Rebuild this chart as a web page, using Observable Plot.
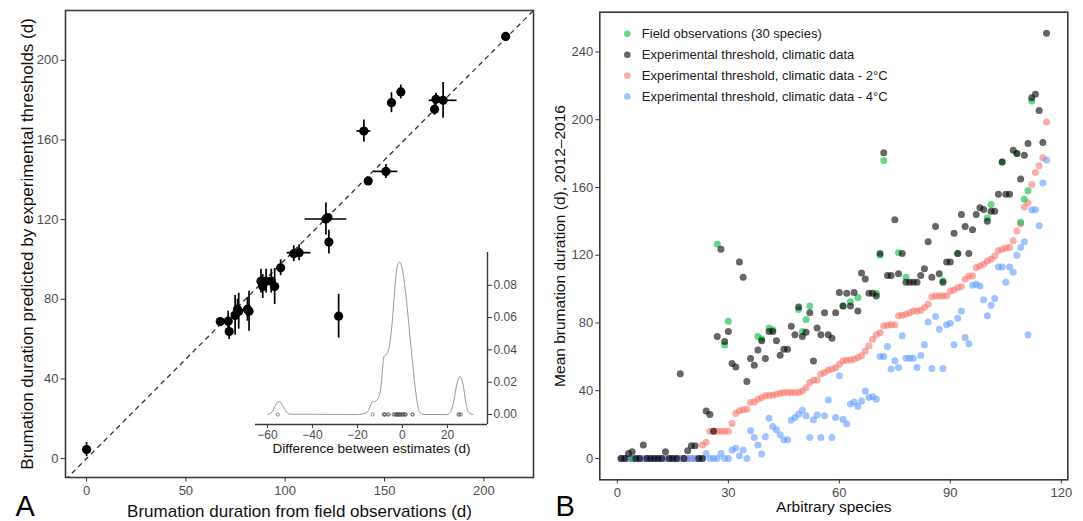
<!DOCTYPE html>
<html><head><meta charset="utf-8">
<script src="https://cdn.jsdelivr.net/npm/d3@7"></script>
<script src="https://cdn.jsdelivr.net/npm/@observablehq/plot@0.6"></script>
<style>
html,body{margin:0;padding:0;background:#fff;}
#wrap{position:relative;width:1083px;height:521px;overflow:hidden;}
#wrap > div{position:absolute;}
</style></head><body><div id="wrap"><div id="pa" style="left:0;top:0"></div><div id="pb" style="left:540px;top:0"></div><div id="pi" style="left:200px;top:230px"></div></div>
<script>
// ---------- Panel A data ----------
const obsA  = [0, 211, 158.2, 153.5, 175.9, 179.5, 175.2, 139.6, 150.7, 141.8, 120.5, 121.5, 122, 104.3, 107, 97.7, 87.8, 90.4, 93, 88.7, 94.7, 81.8, 76.6, 74.8, 71.3, 67.3, 71.8, 126.9, 81, 76];
const predA = [4.5, 212, 184.1, 178.7, 180.4, 179.9, 175.4, 164.5, 144.2, 139.4, 120.3, 121, 108.7, 102.9, 103.4, 95.8, 89.1, 89.1, 89.1, 86.4, 86.4, 74, 74, 71.9, 69, 68.8, 63.8, 71.5, 75, 75];
const xErrA = [0, 2, 0, 0, 0, 7, 0, 3.5, 6, 0, 10.5, 0, 0, 0, 6, 0, 0, 0, 0, 0, 0, 0, 0, 0, 0, 0, 0, 0, 0, 0];
const yErrA = [3.5, 1.5, 3.5, 5, 3, 9, 3, 5.5, 3.5, 0, 8, 0, 6, 4, 4, 4, 6, 6, 6, 6, 9, 10, 9, 10, 5, 0, 4, 11, 6, 5];
const xTicksA = [0, 50, 100, 150, 200];
const yTicksA = [0, 40, 80, 120, 160, 200];
const xDomA = [-10.6, 225], yDomA = [-9.5, 225];
const xTitleA = "Brumation duration from field observations (d)";
const yTitleA = "Brumation duration predicted by experimental thresholds (d)";

// ---------- Inset data (density of differences) ----------
const densX = [-60, -58, -57, -56, -55, -54, -53, -52, -50, -20, -16, -15, -14, -13.5, -12, -10.5, -9.5, -9, -8.3, -7.5, -6.8, -5.5, -4.6, -3.5, -2.4, -1.3, -0.2, 1, 2.1, 3.5, 5, 6, 7.3, 8.5, 9.5, 20, 21.5, 23, 24, 25, 25.5, 26, 27, 28, 29.3, 31.4];
const densY = [0, 0.0015, 0.004, 0.0068, 0.008, 0.0075, 0.005, 0.0025, 0.0002, 0, 0.001, 0.003, 0.0062, 0.0076, 0.0082, 0.0107, 0.018, 0.0252, 0.0355, 0.0368, 0.0376, 0.045, 0.0561, 0.076, 0.0912, 0.0943, 0.0912, 0.08, 0.0664, 0.046, 0.0252, 0.013, 0.0025, 0.0005, 0, 0, 0.002, 0.0095, 0.0175, 0.0225, 0.0235, 0.0228, 0.018, 0.009, 0.0015, 0];
const insetXTicks = [-60, -40, -20, 0, 20];
const insetYTicks = [0, 0.02, 0.04, 0.06, 0.08];
const insetXDom = [-65.3, 37.8], insetYDom = [-0.0062, 0.1003];
const rugLevel = 0;
const insetTitle = "Difference between estimates (d)";

// ---------- Panel B data ----------
const speciesCount = 116;
const expClim = [0,0,3,4,0,0,8,0,0,0, 0,0,4,0,0,0,50,0,4.5,7.5, 7.5,0,0,28,26,16,72,123.5,69,75,
  56,54,116,107,45.5,59,55,64,69.5,59, 75,75,69.5,61,64.5,64.5,78,73,89.5,72,
  74.5,86,57.5,77,73,86,73,71,86,98, 90,97.5,90,98,87,109.5,106,97.5,97.5,96,
  121,180.5,108,108,141,109,121,104,104,104, 104,108,112,128,107,137,109,104,116,116,
  133,121,144,137,121,135,144,148,147,140, 146,146,156,175,156,156,182,180,165,179,
  186,213,215,205.5,186.5,251];
const expMinus2 = [0,0,0,0,0,0,0,0,0,0, 0,0,0,0,0,0,0,0,0,0, 0,0,8,9.5,16,16,16,16,16,16,
  20.7,26.6,28.2,28.7,29,33,33.4,35,36,37, 37.3,37.3,37.9,38.5,38.9,38.9,38.9,38.9,39,39.9,
  41.8,44.8,46.2,46.4,49.8,50.8,52.2,52.8,53.5,55.7, 57.7,58,58.2,58.6,59.6,60.6,63.5,66.5,70.4,73,
  74.3,78.3,78.7,78.9,78.9,84.2,84.6,85.2,86,87.1, 87.1,87.5,89.1,91.1,95.5,96,96,96,96,98.9,
  99.5,100.9,101.5,105.8,107.8,107.8,112.7,113.7,114.7,116.6, 117.6,119.6,122.6,123.6,124.2,124.6,128.5,134.3,138.4,148.5,
  151,161.8,168.9,172.8,177.5,198.6];
const expMinus4 = [0,0,0,0,0,0,0,0,0,0, 0,0,0,0,0,0,0,0,0,0, 0,0,0,3,0,0,0,3,0,0,
  5,6,1.6,5,0,16.3,12.4,7.9,2.6,12.8, 23.8,18.9,16.9,14,11,11,22.6,24.2,26.1,28.5,
  25.2,12.4,22.8,25.6,12.4,25.2,34.5,12.4,24.2,48.8, 23.2,20.3,32.1,33.4,30.7,34,39.9,36,36.4,35,
  60.2,60.2,66.1,52.8,57.7,53.7,72.4,59.2,59.2,59.2, 53.7,60.8,67.1,80.6,53.1,83.8,76.3,53.1,78.9,79.8,
  67.1,82.8,87.1,71.4,67.8,102.3,102.9,101.9,93.7,84.2, 90.5,94.4,113,113,104,113,110,120,124.5,128,
  73,146.8,146.8,137.4,162.6,176.3];
const fieldSpecies = [4,27,29,30,38,39,41,42,49,50,51,52,61,63,65,70,71,72,76,78,88,92,100,101,104,108,109,110,111,112];
const fieldValues  = [0,126.5,67,81,72,70.5,77,76,88,75,82,90,90,92.5,95,97.5,120,176,121.5,107,105,121,142,150,175,180,139.5,153,158,211];
const legendLabels = ["Field observations (30 species)", "Experimental threshold, climatic data", "Experimental threshold, climatic data - 2\u00b0C", "Experimental threshold, climatic data - 4\u00b0C"];
const legendColors = ["#00BA38", "#000000", "#F8766D", "#619CFF"];
const xTicksB = [0, 30, 60, 90, 120];
const yTicksB = [0, 40, 80, 120, 160, 200, 240];
const xDomB = [-4.75, 121.75], yDomB = [-12.6, 263.5];
const xTitleB = "Arbitrary species";
const yTitleB = "Mean brumation duration (d), 2012\u20132016";

const FONT = '"Liberation Sans", Arial, Helvetica, sans-serif';
const TICK_TXT = "#4d4d4d", TICK = "#333333", FRAME = "#3a3a3a";

// ---------- Build Panel A ----------
const aData = obsA.map((x, i) => ({x, y: predA[i], xe: xErrA[i], ye: yErrA[i]}));
const plotA = Plot.plot({
  width: 540, height: 521,
  marginLeft: 65, marginRight: 7, marginTop: 10, marginBottom: 44,
  style: {fontFamily: FONT, background: "transparent", overflow: "visible"},
  x: {domain: xDomA}, y: {domain: yDomA},
  marks: [
    Plot.link([xDomA], {x1: d => d[0], y1: d => d[0], x2: d => d[1], y2: d => d[1], stroke: "#333", strokeWidth: 1.3, strokeDasharray: "5,4", clip: true}),
    Plot.ruleX(aData.filter(d => d.ye > 0), {x: "x", y1: d => d.y - d.ye, y2: d => d.y + d.ye, stroke: "black", strokeWidth: 1.7}),
    Plot.ruleY(aData.filter(d => d.xe > 0), {y: "y", x1: d => d.x - d.xe, x2: d => d.x + d.xe, stroke: "black", strokeWidth: 1.7}),
    Plot.dot(aData, {x: "x", y: "y", r: 4.6, fill: "black"}),
    Plot.frame({stroke: FRAME, strokeWidth: 1.6}),
    Plot.axisX({ticks: xTicksA, tickSize: 4.5, tickPadding: 3.5, fontSize: 13, fill: TICK_TXT, stroke: TICK, label: null}),
    Plot.axisY({ticks: yTicksA, tickSize: 4.5, tickPadding: 2.5, fontSize: 13, fill: TICK_TXT, stroke: TICK, label: null}),
    Plot.text([xTitleA], {frameAnchor: "bottom", dy: 33.6, fontSize: 17, fill: "#111", textAnchor: "middle", lineAnchor: "middle"}),
    Plot.text([yTitleA], {frameAnchor: "left", dx: -38, rotate: -90, fontSize: 17, fill: "#111", textAnchor: "middle", lineAnchor: "middle"}),
    Plot.text(["A"], {frameAnchor: "bottom-left", dx: -50, dy: 29.4, fontSize: 29, textAnchor: "start", lineAnchor: "middle", fill: "#000"})
  ]
});
document.getElementById("pa").appendChild(plotA);

// ---------- Inset ----------
const densData = densX.map((x, i) => ({x, y: densY[i]}));
const diffs = obsA.map((x, i) => predA[i] - x);
const plotI = Plot.plot({
  width: 330, height: 230,
  marginLeft: 55, marginRight: 43, marginTop: 22, marginBottom: 36,
  style: {fontFamily: FONT, background: "transparent", overflow: "visible"},
  x: {domain: insetXDom}, y: {domain: insetYDom},
  marks: [
    Plot.line(densData, {x: "x", y: "y", stroke: "#8c8c8c", strokeWidth: 0.9, curve: "monotone-x"}),
    Plot.dot(diffs, {x: d => d, y: () => rugLevel, r: 1.6, stroke: "#555", strokeWidth: 0.7, fill: "none"}),
    Plot.ruleY([insetYDom[0]], {stroke: FRAME, strokeWidth: 1.4}),
    Plot.ruleX([insetXDom[1]], {stroke: FRAME, strokeWidth: 1.4}),
    Plot.axisX({ticks: insetXTicks, tickFormat: d3.format("d"), tickSize: 4, tickPadding: 1.5, fontSize: 12, fill: TICK_TXT, stroke: TICK, label: null}),
    Plot.axisY({anchor: "right", ticks: insetYTicks, tickFormat: d3.format(".2f"), tickSize: 4, tickPadding: 2, fontSize: 12, fill: TICK_TXT, stroke: TICK, label: null}),
    Plot.text([insetTitle], {frameAnchor: "bottom", dy: 24.5, fontSize: 13.5, fill: "#111", textAnchor: "middle", lineAnchor: "middle"})
  ]
});
document.getElementById("pi").appendChild(plotI);

// ---------- Panel B ----------
const species = d3.range(1, speciesCount + 1);
const seriesBlack = species.map((s, i) => ({s, v: expClim[i]}));
const seriesRed = species.map((s, i) => ({s, v: expMinus2[i]}));
const seriesBlue = species.map((s, i) => ({s, v: expMinus4[i]}));
const seriesGreen = fieldSpecies.map((s, i) => ({s, v: fieldValues[i]}));
const R = 3.5, OP = 0.6;
const legendMarks = legendLabels.flatMap((lab, k) => [
  Plot.dot([lab], {frameAnchor: "top-left", dx: 27.5, dy: 21.6 + 20.9 * k, r: 3.3, fill: legendColors[k], fillOpacity: OP}),
  Plot.text([lab], {frameAnchor: "top-left", dx: 42, dy: 21.6 + 20.9 * k, textAnchor: "start", lineAnchor: "middle", fontSize: 13, fill: "#222"})
]);
const plotB = Plot.plot({
  width: 543, height: 521,
  marginLeft: 59.3, marginRight: 15.7, marginTop: 11.7, marginBottom: 41.7,
  style: {fontFamily: FONT, background: "transparent", overflow: "visible"},
  x: {domain: xDomB}, y: {domain: yDomB},
  marks: [
    Plot.dot(seriesRed, {x: "s", y: "v", r: R, fill: legendColors[2], fillOpacity: OP}),
    Plot.dot(seriesBlue, {x: "s", y: "v", r: R, fill: legendColors[3], fillOpacity: OP}),
    Plot.dot(seriesGreen, {x: "s", y: "v", r: R, fill: legendColors[0], fillOpacity: OP}),
    Plot.dot(seriesBlack, {x: "s", y: "v", r: R, fill: legendColors[1], fillOpacity: OP}),
    Plot.frame({stroke: FRAME, strokeWidth: 1.6}),
    Plot.axisX({ticks: xTicksB, tickSize: 4, tickPadding: 3.5, fontSize: 13, fill: TICK_TXT, stroke: TICK, label: null}),
    Plot.axisY({ticks: yTicksB, tickSize: 4, tickPadding: 2.6, fontSize: 13, fill: TICK_TXT, stroke: TICK, label: null}),
    ...legendMarks,
    Plot.text([xTitleB], {frameAnchor: "bottom", dy: 27.5, fontSize: 15.5, fill: "#111", textAnchor: "middle", lineAnchor: "middle"}),
    Plot.text([yTitleB], {frameAnchor: "left", dx: -40, rotate: -90, fontSize: 15.5, fill: "#111", textAnchor: "middle", lineAnchor: "middle"}),
    Plot.text(["B"], {frameAnchor: "bottom-left", dx: -44.3, dy: 27.3, fontSize: 29, textAnchor: "start", lineAnchor: "middle", fill: "#000"})
  ]
});
document.getElementById("pb").appendChild(plotB);
</script></body></html>
